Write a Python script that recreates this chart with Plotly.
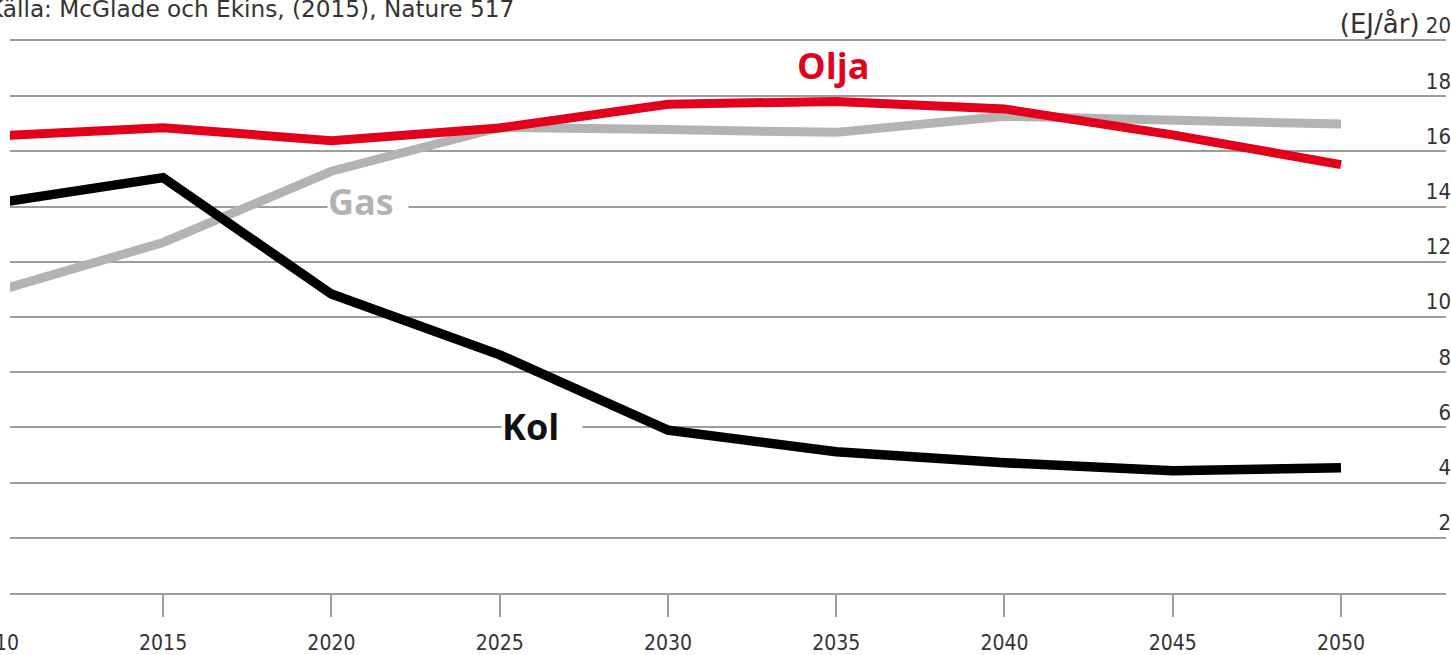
import plotly.graph_objects as go

years = [2010, 2015, 2020, 2025, 2030, 2035, 2040, 2045, 2050]
olja = [16.56, 16.86, 16.39, 16.85, 17.71, 17.81, 17.54, 16.60, 15.52]
gas = [10.92, 12.70, 15.28, 16.87, 16.79, 16.69, 17.27, 17.16, 16.99]
kol = [14.12, 15.05, 10.83, 8.63, 5.90, 5.12, 4.72, 4.43, 4.54]

y_ticks = [2, 4, 6, 8, 10, 12, 14, 16, 18, 20]
y_ticktext = ["2", "4", "6", "8", "10", "12", "14", "16", "18",
              '<span style="font-family:DejaVu Sans;font-size:26px">(EJ/år)</span> 20']
x_ticks = [2015, 2020, 2025, 2030, 2035, 2040, 2045, 2050]
x_ticktext = [str(v) for v in x_ticks]

source = "Källa: McGlade och Ekins, (2015), Nature 517"
first_year_label = "2010"

X_RANGE = [2010.45, 2053.12]
Y_RANGE = [0, 20]

RED = "#e2001a"
GRAY = "#b3b3b3"
BLACK = "#000000"
GRID = "#9d9d9d"
TXT = "#333333"
NARROW = "Liberation Sans Narrow, Arial Narrow, DejaVu Sans Condensed, sans-serif"
WIDE = "DejaVu Sans, Verdana, sans-serif"
BOLD = "Open Sans, Noto Sans, sans-serif"

fig = go.Figure()
fig.add_trace(go.Scatter(x=years, y=gas, mode="lines", line=dict(color=GRAY, width=9), showlegend=False))
fig.add_trace(go.Scatter(x=years, y=olja, mode="lines", line=dict(color=RED, width=9), showlegend=False))
fig.add_trace(go.Scatter(x=years, y=kol, mode="lines", line=dict(color=BLACK, width=9.5), showlegend=False))

# series labels
fig.add_annotation(x=2034.9, y=19.1, text="<b>Olja</b>", showarrow=False,
                   font=dict(family=BOLD, size=36, color=RED))
fig.add_annotation(x=2021.1, y=14.2, text="<b>Gas</b>", showarrow=False, bgcolor="white",
                   width=80, height=32, align="left", borderpad=0,
                   font=dict(family=BOLD, size=36, color=GRAY))
fig.add_annotation(x=2026.26, y=6.05, text="<b>Kol</b>", showarrow=False, bgcolor="white",
                   width=80, height=32, align="left", borderpad=0,
                   font=dict(family=BOLD, size=36, color="#111111"))

# source line
fig.add_annotation(xref="paper", yref="paper", x=0, y=1, xanchor="left", yanchor="middle",
                   xshift=-24, yshift=33, text=source, showarrow=False,
                   font=dict(family=WIDE, size=23.2, color=TXT))

# partially visible first tick label (2010), positioned from the axis range
fig.add_annotation(xref="paper", yref="paper",
                   x=(2010 - X_RANGE[0]) / (X_RANGE[1] - X_RANGE[0]), y=0,
                   xanchor="center", yanchor="top", yshift=-36, text=first_year_label, showarrow=False,
                   font=dict(family=NARROW, size=21, color=TXT))

fig.update_layout(
    width=1451, height=655,
    margin=dict(l=10, r=0, t=41, b=60),
    paper_bgcolor="white", plot_bgcolor="white",
    xaxis=dict(range=X_RANGE, tickvals=x_ticks, ticktext=x_ticktext,
               showgrid=False, zeroline=False,
               showline=True, mirror=True, linecolor=GRID, linewidth=2,
               ticks="outside", ticklen=22, tickwidth=1.5, tickcolor=GRID,
               tickfont=dict(family=NARROW, size=21, color=TXT), ticklabelstandoff=8),
    yaxis=dict(range=Y_RANGE, tickvals=y_ticks, ticktext=y_ticktext, side="right",
               showgrid=True, gridcolor=GRID, gridwidth=2, zeroline=False, showline=False,
               ticks="", ticklabelposition="inside top", ticklabelstandoff=-8,
               ticklabeloverflow="allow",
               tickfont=dict(family=NARROW, size=22, color=TXT)),
)

post = ("document.documentElement.style.overflow='hidden';"
        "document.body.style.margin='0';document.body.style.overflow='hidden';"
        "var g=document.getElementById('{plot_id}');g.style.overflow='hidden';"
        "var s=g.querySelectorAll('svg');for(var i=0;i<s.length;i++){s[i].style.overflow='hidden';}")

fig.write_html("out.html", config={"displayModeBar": False}, post_script=post)
